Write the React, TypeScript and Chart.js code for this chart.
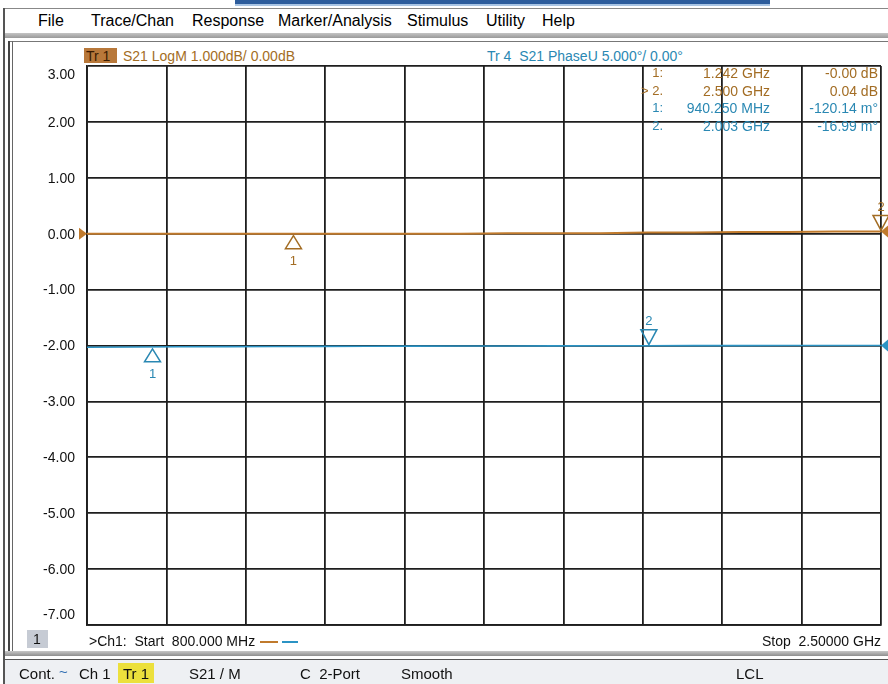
import React, { useEffect, useRef } from "react";
import { Chart, registerables } from "chart.js";
Chart.register(...registerables);

// ---- data ----
const freqMHz = [800, 900, 1000, 1100, 1200, 1300, 1400, 1500, 1600, 1700, 1800, 1900, 2000, 2100, 2200, 2300, 2400, 2500];
const s21LogMdB = [0.0, 0.0, 0.0, 0.0, 0.0, 0.0, 0.0, 0.0, 0.0, 0.01, 0.01, 0.01, 0.02, 0.02, 0.03, 0.03, 0.04, 0.04];
const s21PhaseDeg = [-0.15, -0.13, -0.11, -0.1, -0.09, -0.08, -0.07, -0.06, -0.05, -0.04, -0.03, -0.02, -0.02, -0.01, -0.01, 0.0, 0.0, 0.0];
const yTickValues = [3, 2, 1, 0, -1, -2, -3, -4, -5, -6, -7];
const logMarkerFreq = [1242, 2500];
const logMarkerVal = [0.0, 0.04];
const phaseMarkerFreq = [940.25, 2003];
const phaseMarkerVal = [-0.12014, -0.01699];
const markerRows = [
  { idx: "1:", f: "1.242 GHz", v: "-0.00 dB", c: "o" },
  { idx: "> 2.", f: "2.500 GHz", v: "0.04 dB", c: "o" },
  { idx: "1:", f: "940.250 MHz", v: "-120.14 m°", c: "b" },
  { idx: "2.", f: "2.003 GHz", v: "-16.99 m°", c: "b" },
];
const menuItems = [
  ["File", 38], ["Trace/Chan", 91], ["Response", 192], ["Marker/Analysis", 278],
  ["Stimulus", 407], ["Utility", 486], ["Help", 542],
];

const ORANGE = "#c07a2c";
const ORANGE_TXT = "#a36d24";
const BLUE = "#2b93c4";
const BLUE_TXT = "#2a88b3";
const GRID = "#1e1e1e";
const FONT = "'Liberation Sans', Arial, sans-serif";

function tri(ctx: CanvasRenderingContext2D, x: number, y: number, up: boolean, color: string, label: string) {
  ctx.save();
  ctx.strokeStyle = color;
  ctx.lineWidth = 1.5;
  ctx.fillStyle = color;
  ctx.beginPath();
  if (up) {
    ctx.moveTo(x, y + 2);
    ctx.lineTo(x - 8, y + 15);
    ctx.lineTo(x + 8, y + 15);
  } else {
    ctx.moveTo(x, y - 1);
    ctx.lineTo(x - 8, y - 16);
    ctx.lineTo(x + 8, y - 16);
  }
  ctx.closePath();
  ctx.stroke();
  ctx.font = `13px ${FONT}`;
  ctx.textAlign = "center";
  ctx.textBaseline = "middle";
  ctx.fillText(label, x, up ? y + 28 : y - 24);
  ctx.restore();
}

const overlayPlugin = {
  id: "vnaOverlay",
  afterDraw(chart: any) {
    const ctx = chart.ctx as CanvasRenderingContext2D;
    const x = chart.scales.x;
    const y = chart.scales.y;
    const y2 = chart.scales.y2;
    const area = chart.chartArea;
    // y tick labels
    ctx.save();
    ctx.font = `14px ${FONT}`;
    ctx.fillStyle = "#111";
    ctx.textAlign = "right";
    ctx.textBaseline = "middle";
    yTickValues.forEach((v) => {
      let py = y.getPixelForValue(v);
      if (v === y.max) py += 9;
      else if (v === y.min) py -= 10;
      else py += 1;
      ctx.fillText(v.toFixed(2), area.left - 12, py);
    });
    ctx.restore();
    // reference arrows
    ctx.save();
    const r0 = y.getPixelForValue(0);
    ctx.fillStyle = ORANGE;
    ctx.beginPath();
    ctx.moveTo(area.left - 8, r0 - 6);
    ctx.lineTo(area.left, r0);
    ctx.lineTo(area.left - 8, r0 + 6);
    ctx.closePath();
    ctx.fill();
    const rEnd = y.getPixelForValue(s21LogMdB[s21LogMdB.length - 1]);
    ctx.beginPath();
    ctx.moveTo(area.right + 7, rEnd - 6);
    ctx.lineTo(area.right, rEnd);
    ctx.lineTo(area.right + 7, rEnd + 6);
    ctx.closePath();
    ctx.fill();
    const b0 = y2.getPixelForValue(0);
    ctx.fillStyle = BLUE;
    ctx.beginPath();
    ctx.moveTo(area.right + 7, b0 - 6);
    ctx.lineTo(area.right, b0);
    ctx.lineTo(area.right + 7, b0 + 6);
    ctx.closePath();
    ctx.fill();
    ctx.restore();
    // markers
    logMarkerFreq.forEach((f, i) => {
      tri(ctx, x.getPixelForValue(f), y.getPixelForValue(logMarkerVal[i]), i === 0, ORANGE_TXT, String(i + 1));
    });
    phaseMarkerFreq.forEach((f, i) => {
      tri(ctx, x.getPixelForValue(f), y2.getPixelForValue(phaseMarkerVal[i]), i === 0, BLUE_TXT, String(i + 1));
    });
  },
};

const abs = (l: number, t: number, extra: React.CSSProperties = {}): React.CSSProperties => ({
  position: "absolute",
  left: l,
  top: t,
  whiteSpace: "pre",
  lineHeight: 1,
  ...extra,
});

export default function App() {
  const ref = useRef<HTMLCanvasElement | null>(null);
  useEffect(() => {
    if (!ref.current) return;
    const chart = new Chart(ref.current, {
      type: "line",
      data: {
        datasets: [
          {
            data: freqMHz.map((f, i) => ({ x: f, y: s21LogMdB[i] })),
            borderColor: ORANGE,
            borderWidth: 2,
            pointRadius: 0,
            yAxisID: "y",
          },
          {
            data: freqMHz.map((f, i) => ({ x: f, y: s21PhaseDeg[i] })),
            borderColor: BLUE,
            borderWidth: 1.6,
            pointRadius: 0,
            yAxisID: "y2",
          },
        ],
      },
      options: {
        animation: false,
        responsive: false,
        layout: { padding: { left: 73, right: 7, top: 23, bottom: 25 } },
        plugins: { legend: { display: false }, tooltip: { enabled: false } },
        scales: {
          x: {
            type: "linear",
            min: 800,
            max: 2500,
            ticks: { display: false, stepSize: 170 },
            grid: { color: GRID, lineWidth: 1.8, drawTicks: false },
            border: { display: true, color: GRID, width: 1.8 },
          },
          y: {
            min: -7,
            max: 3,
            ticks: { display: false, stepSize: 1 },
            grid: { color: GRID, lineWidth: 1.8, drawTicks: false },
            border: { display: true, color: GRID, width: 1.8 },
          },
          y2: { display: false, min: -25, max: 25 },
        },
      },
      plugins: [overlayPlugin],
    } as any);
    return () => chart.destroy();
  }, []);

  return (
    <div
      style={{
        position: "fixed",
        left: 0,
        top: 0,
        width: 888,
        height: 684,
        background: "#fff",
        overflow: "hidden",
        fontFamily: FONT,
        color: "#111",
      }}
    >
      {/* top blue bar */}
      <div style={abs(235, 0, { width: 535, height: 4, background: "#2c5c9c" })} />
      <div style={abs(235, 4, { width: 535, height: 2, background: "#a8c4e4" })} />
      {/* window frame */}
      <div style={abs(3, 8, { width: 885, height: 1, background: "#888" })} />
      <div style={abs(3, 8, { width: 2, height: 676, background: "#555" })} />
      {/* menu */}
      {menuItems.map(([t, l]) => (
        <div key={t as string} style={abs(l as number, 13, { fontSize: 16, color: "#000" })}>
          {t}
        </div>
      ))}
      <div style={abs(5, 33, { width: 883, height: 5, background: "linear-gradient(#c4c4c4,#9a9a9a)" })} />
      {/* panel borders */}
      <div style={abs(8, 41, { width: 880, height: 1, background: "#777" })} />
      <div style={abs(8, 41, { width: 2, height: 610, background: "#444" })} />
      <div style={abs(12, 41, { width: 1, height: 610, background: "#666" })} />
      {/* title row */}
      <div style={abs(84, 48, { width: 33, height: 15, background: "#b8783a" })} />
      <div style={abs(86, 49, { fontSize: 14, color: "#3a1a00" })}>Tr 1</div>
      <div style={abs(123, 49, { fontSize: 14, color: ORANGE_TXT })}>S21 LogM 1.000dB/ 0.00dB</div>
      <div style={abs(487, 49, { fontSize: 14, color: BLUE_TXT })}>{"Tr 4  S21 PhaseU 5.000°/ 0.00°"}</div>
      {/* chart */}
      <canvas ref={ref} width={874} height={607} style={{ position: "absolute", left: 14, top: 43, width: 874, height: 607 }} />
      {/* marker table */}
      {markerRows.map((r, i) => {
        const col = r.c === "o" ? ORANGE_TXT : BLUE_TXT;
        const top = 66 + i * 17.5;
        return (
          <React.Fragment key={i}>
            <div style={abs(0, top, { width: 663, textAlign: "right", fontSize: 13, color: col })}>{r.idx}</div>
            <div style={abs(0, top, { width: 770, textAlign: "right", fontSize: 14, color: col })}>{r.f}</div>
            <div style={abs(0, top, { width: 878, textAlign: "right", fontSize: 14, color: col })}>{r.v}</div>
          </React.Fragment>
        );
      })}
      {/* bottom stimulus row */}
      <div style={abs(27, 630, { width: 21, height: 18, background: "#c6cbd4" })} />
      <div style={abs(33, 632, { fontSize: 14 })}>1</div>
      <div style={abs(89, 634, { fontSize: 14 })}>{">Ch1:  Start  800.000 MHz"}</div>
      <div style={abs(260, 641, { width: 18, height: 2, background: ORANGE })} />
      <div style={abs(282, 641, { width: 16, height: 2, background: BLUE })} />
      <div style={abs(0, 634, { width: 881, textAlign: "right", fontSize: 14 })}>{"Stop  2.50000 GHz"}</div>
      {/* status bar */}
      <div style={abs(5, 651, { width: 883, height: 5, background: "linear-gradient(#c8c8c8,#8e8e8e)" })} />
      <div style={abs(5, 659, { width: 883, height: 1, background: "#555" })} />
      <div style={abs(5, 660, { width: 883, height: 24, background: "#eef0f3" })} />
      <div style={abs(118, 663, { width: 36, height: 20, background: "#ece03c" })} />
      <div style={abs(19, 666, { fontSize: 15 })}>Cont.</div>
      <div style={abs(59, 664, { fontSize: 15, color: "#2a6ab0" })}>~</div>
      <div style={abs(79, 666, { fontSize: 15 })}>Ch 1</div>
      <div style={abs(123, 666, { fontSize: 15 })}>Tr 1</div>
      <div style={abs(189, 666, { fontSize: 15 })}>S21 / M</div>
      <div style={abs(300, 666, { fontSize: 15 })}>{"C  2-Port"}</div>
      <div style={abs(401, 666, { fontSize: 15 })}>Smooth</div>
      <div style={abs(736, 666, { fontSize: 15 })}>LCL</div>
    </div>
  );
}
